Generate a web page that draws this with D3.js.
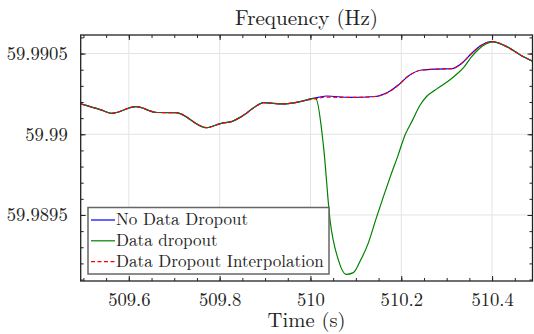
<!DOCTYPE html>
<html><head><meta charset="utf-8">
<script src="https://cdn.jsdelivr.net/npm/d3@7"></script>
<style>body{margin:0;background:#fff}svg{display:block}</style>
</head><body><svg id="c" width="534" height="334"></svg>
<script>
const title = "Frequency (Hz)";
const xLabel = "Time (s)";
const seriesNames = ["No Data Dropout", "Data dropout", "Data Dropout Interpolation"];
const seriesColors = ["#0000ff", "#008000", "#ff0000"];
const xTicks = [509.6, 509.8, 510, 510.2, 510.4];
const xTickLabels = ["509.6", "509.8", "510", "510.2", "510.4"];
const yTicks = [59.9895, 59.99, 59.9905];
const yTickLabels = ["59.9895", "59.99", "59.9905"];

// No data dropout (reference signal)
const baseTime = [509.494, 509.5387, 509.5618, 509.6158, 509.6621, 509.7039, 509.7711, 509.8037, 509.8257, 509.8477,
  509.8867, 509.8962, 509.9396, 509.977, 510.0063, 510.0354, 510.0872, 510.1422, 510.1715, 510.1936,
  510.2156, 510.2451, 510.2817, 510.3112, 510.3332, 510.3552, 510.3773, 510.400, 510.4323, 510.463, 510.4892];
const baseFreq = [59.990188, 59.990151, 59.990130, 59.990171, 59.990135, 59.990134, 59.990041, 59.990068, 59.990078, 59.990109,
  59.990185, 59.990196, 59.990188, 59.990202, 59.990222, 59.990237, 59.990228, 59.990234, 59.990262, 59.990305,
  59.990361, 59.990398, 59.990404, 59.990406, 59.990440, 59.990502, 59.990553, 59.990574, 59.990543, 59.990490, 59.990453];
// Interpolated signal (same timestamps as reference)
const interpFreq = [59.990188, 59.990151, 59.990130, 59.990171, 59.990135, 59.990134, 59.990041, 59.990068, 59.990078, 59.990109,
  59.990185, 59.990196, 59.990188, 59.990202, 59.990218, 59.990230, 59.990228, 59.990234, 59.990260, 59.990305,
  59.990361, 59.990398, 59.990404, 59.990406, 59.990440, 59.990502, 59.990553, 59.990574, 59.990543, 59.990490, 59.990453];
// Data dropout signal
const dropTime = [509.494, 509.5387, 509.5618, 509.6158, 509.6621, 509.7039, 509.7711, 509.8037, 509.8257, 509.8477,
  509.8867, 509.8962, 509.9396, 509.977, 510.0063, 510.0123, 510.0284, 510.0431, 510.0614, 510.0784,
  510.0944, 510.1092, 510.1275, 510.1444, 510.1605, 510.1764, 510.1925, 510.2083, 510.2246, 510.2409,
  510.2568, 510.2731, 510.2892, 510.3052, 510.3213, 510.3376, 510.3537, 510.3698, 510.3861, 510.4021,
  510.4323, 510.463, 510.4892];
const dropFreq = [59.990188, 59.990151, 59.990130, 59.990171, 59.990135, 59.990134, 59.990041, 59.990068, 59.990078, 59.990109,
  59.990185, 59.990196, 59.990188, 59.990202, 59.990222, 59.990219, 59.989934, 59.989469, 59.989222, 59.989132,
  59.989143, 59.989213, 59.989327, 59.989476, 59.989612, 59.989742, 59.989866, 59.989996, 59.990086, 59.990178,
  59.990237, 59.990271, 59.990302, 59.990333, 59.990370, 59.990414, 59.990476, 59.990525, 59.990559, 59.990573,
  59.990543, 59.990490, 59.990453];

const FONT = '"Latin Modern Roman", "CMU Serif", "Liberation Serif", serif';
const svg = d3.select("#c");
const L = 80.7, R = 532.5, T = 35, B = 281;
const x = d3.scaleLinear().domain([509.494, 510.489]).range([L, R]);
const y = d3.scaleLinear().domain([59.989091, 59.990615]).range([B, T]);

const xMinor = d3.range(509.5, 510.49, 0.05).map(v => +v.toFixed(2));
const yMinor = d3.range(59.9891, 59.99061, 0.0001).map(v => +v.toFixed(4));

// fit a text element's font size so its width matches a target width
function fit(sel, target) {
  const fs = parseFloat(sel.style("font-size"));
  const w = sel.node().getComputedTextLength();
  if (w > 0) sel.style("font-size", (fs * target / w).toFixed(2) + "px");
  return sel;
}

// grid
const g = svg.append("g");
g.selectAll(".gx").data(xTicks).join("line").attr("x1", d => x(d)).attr("x2", d => x(d)).attr("y1", T).attr("y2", B)
  .attr("stroke", "#e3e3e3").attr("stroke-width", 1);
g.selectAll(".gy").data(yTicks).join("line").attr("y1", d => y(d)).attr("y2", d => y(d)).attr("x1", L).attr("x2", R)
  .attr("stroke", "#e3e3e3").attr("stroke-width", 1);

// lines
svg.append("clipPath").attr("id", "pc").append("rect").attr("x", L).attr("y", T).attr("width", R - L).attr("height", B - T);
const line = d3.line().x(d => x(d[0])).y(d => y(d[1])).curve(d3.curveMonotoneX);
const lg = svg.append("g").attr("clip-path", "url(#pc)");
lg.append("path").attr("d", line(baseTime.map((t, i) => [t, baseFreq[i]]))).attr("fill", "none").attr("stroke", seriesColors[0]).attr("stroke-width", 1.2);
lg.append("path").attr("d", line(dropTime.map((t, i) => [t, dropFreq[i]]))).attr("fill", "none").attr("stroke", seriesColors[1]).attr("stroke-width", 1.2);
lg.append("path").attr("d", line(baseTime.map((t, i) => [t, interpFreq[i]]))).attr("fill", "none").attr("stroke", seriesColors[2]).attr("stroke-width", 1.2).attr("stroke-dasharray", "4,2.5");

// axes (ticks inside on all sides)
const ax = svg.append("g");
const axB = d3.axisBottom(x).tickValues(xTicks).tickFormat((d, i) => xTickLabels[i]).tickSizeInner(-5).tickSizeOuter(0).tickPadding(12);
ax.append("g").attr("class", "xb").attr("transform", `translate(0,${B})`).call(axB);
ax.append("g").attr("transform", `translate(0,${B})`).call(d3.axisBottom(x).tickValues(xMinor).tickFormat("").tickSizeInner(-3).tickSizeOuter(0));
ax.append("g").attr("transform", `translate(0,${T})`).call(d3.axisTop(x).tickValues(xTicks).tickFormat("").tickSizeInner(-5).tickSizeOuter(0));
ax.append("g").attr("transform", `translate(0,${T})`).call(d3.axisTop(x).tickValues(xMinor).tickFormat("").tickSizeInner(-3).tickSizeOuter(0));
const axL = d3.axisLeft(y).tickValues(yTicks).tickFormat((d, i) => yTickLabels[i]).tickSizeInner(-5).tickSizeOuter(0).tickPadding(13);
ax.append("g").attr("class", "yl").attr("transform", `translate(${L},0)`).call(axL);
ax.append("g").attr("transform", `translate(${L},0)`).call(d3.axisLeft(y).tickValues(yMinor).tickFormat("").tickSizeInner(-3).tickSizeOuter(0));
ax.append("g").attr("transform", `translate(${R},0)`).call(d3.axisRight(y).tickValues(yTicks).tickFormat("").tickSizeInner(-5).tickSizeOuter(0));
ax.append("g").attr("transform", `translate(${R},0)`).call(d3.axisRight(y).tickValues(yMinor).tickFormat("").tickSizeInner(-3).tickSizeOuter(0));
ax.selectAll(".domain").remove();
ax.selectAll("line").attr("stroke", "#222").attr("stroke-width", 1);
ax.selectAll("text").style("font-family", FONT).style("font-size", "18px").attr("fill", "#222");
// size tick labels from the widest label width in the reference
const yl0 = ax.select(".yl").selectAll("text").filter((d, i) => i === 2);
fit(yl0, 61);
const tickFs = yl0.style("font-size");
ax.selectAll("text").style("font-size", tickFs);
svg.append("rect").attr("x", L).attr("y", T).attr("width", R - L).attr("height", B - T).attr("fill", "none").attr("stroke", "#222").attr("stroke-width", 1.3);

// titles
fit(svg.append("text").attr("x", (L + R) / 2).attr("y", 25).attr("text-anchor", "middle").style("font-family", FONT).style("font-size", "20px").attr("fill", "#222").text(title), 143);
fit(svg.append("text").attr("x", (L + R) / 2).attr("y", 327).attr("text-anchor", "middle").style("font-family", FONT).style("font-size", "20px").attr("fill", "#222").text(xLabel), 78);

// legend
const leg = svg.append("g");
leg.append("rect").attr("x", 88).attr("y", 207.5).attr("width", 241).attr("height", 66.5).attr("fill", "#fff").attr("stroke", "#666").attr("stroke-width", 1.5);
const legTexts = [];
seriesNames.forEach((n, i) => {
  const yy = 220 + i * 20.8;
  leg.append("line").attr("x1", 91).attr("x2", 115).attr("y1", yy).attr("y2", yy).attr("stroke", seriesColors[i]).attr("stroke-width", 1.2)
    .attr("stroke-dasharray", i === 2 ? "4,2.5" : null);
  legTexts.push(leg.append("text").attr("x", 116).attr("y", yy + 5).style("font-family", FONT).style("font-size", "17px").attr("fill", "#222").text(n));
});
fit(legTexts[2], 208);
legTexts.forEach(t => t.style("font-size", legTexts[2].style("font-size")));
</script></body></html>
